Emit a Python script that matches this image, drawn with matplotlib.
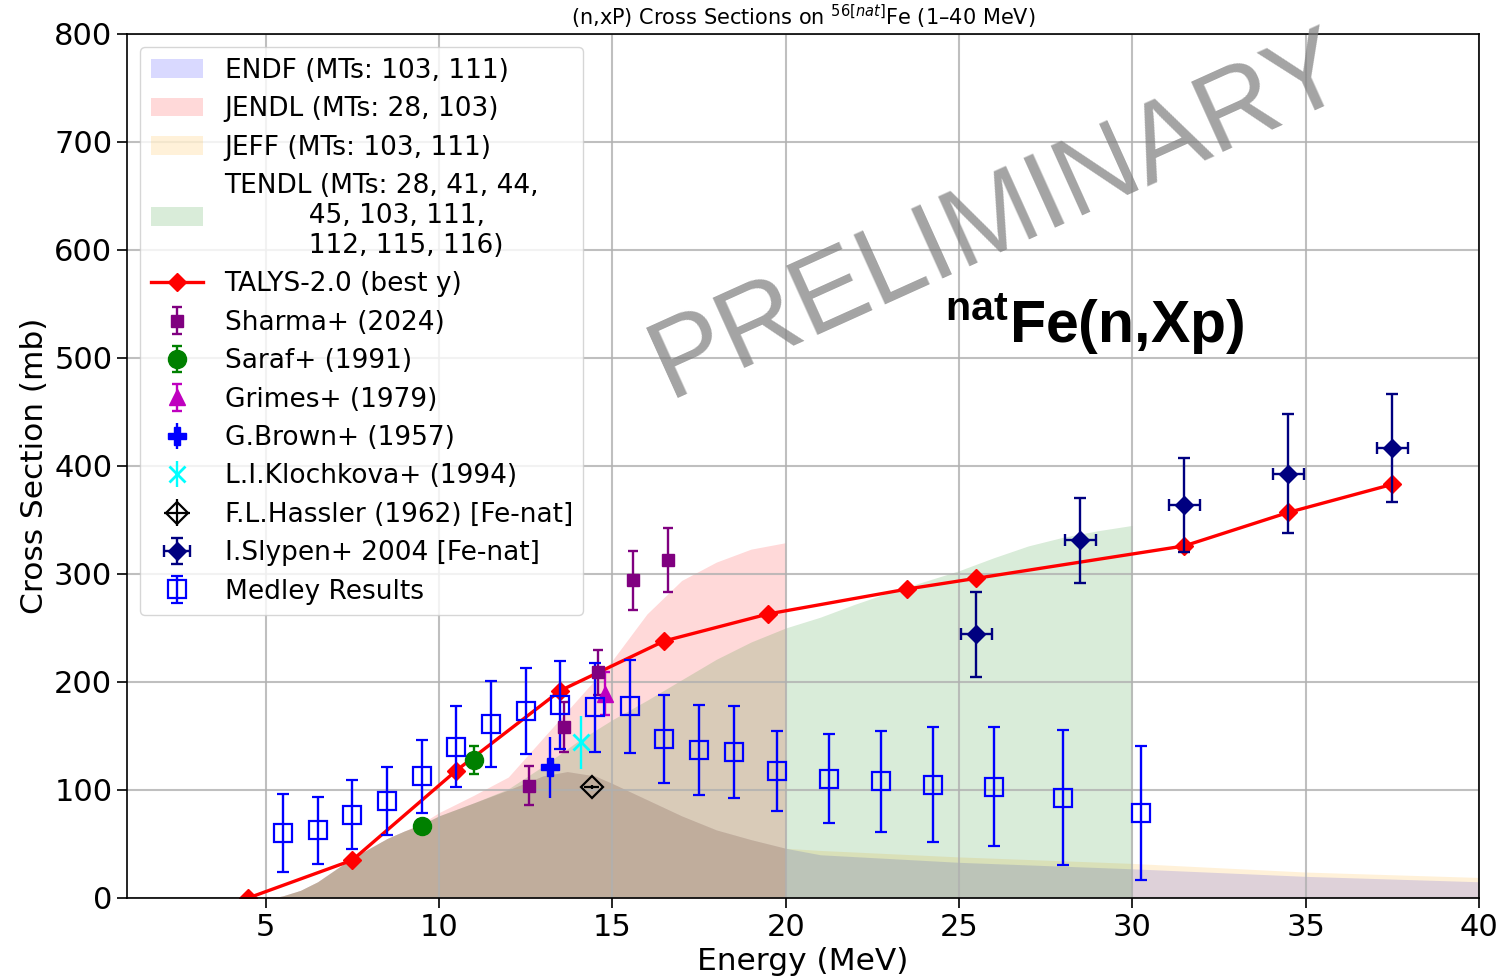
import matplotlib
matplotlib.use('Agg')
import matplotlib.pyplot as plt

plt.rcParams['mathtext.fontset'] = 'custom'
plt.rcParams['mathtext.rm'] = 'DejaVu Sans'
plt.rcParams['mathtext.it'] = 'DejaVu Sans:italic'
plt.rcParams['mathtext.bf'] = 'Liberation Sans:bold'

# ---------------- evaluated libraries ----------------
endf_e = [5.2, 5.5, 6.0, 6.5, 7.0, 7.5, 8.0, 8.5, 9.0, 9.5, 10.0, 11.0, 12.0, 13.0, 13.7,
          14.5, 15.0, 16.0, 17.0, 18.0, 19.0, 20.0, 21.0, 25.0, 30.0, 35.0, 40.0]
endf_xs = [0, 2, 7, 15, 26, 37, 46, 55, 62, 68, 76, 88, 100, 113, 117,
           113, 106, 91, 76, 63, 54, 46, 40, 33, 27, 20, 15]

jeff_e = [5.2, 5.5, 6.0, 6.5, 7.0, 7.5, 8.0, 8.5, 9.0, 9.5, 10.0, 11.0, 12.0, 13.0, 13.7,
          14.5, 15.0, 16.0, 17.0, 18.0, 19.0, 20.0, 21.0, 25.0, 30.0, 35.0, 40.0]
jeff_xs = [0, 2, 7, 15, 26, 37, 46, 55, 62, 68, 76, 88, 100, 113, 117,
           113, 106, 91, 76, 63, 54, 46, 44, 38, 32, 24, 19]

jendl_e = [5.2, 5.5, 6.0, 6.5, 7.0, 7.5, 8.0, 8.5, 9.0, 9.5, 10.0, 11.0, 12.0, 13.0,
           14.0, 15.0, 16.0, 17.0, 18.0, 19.0, 20.0]
jendl_xs = [0, 2, 7, 15, 26, 37, 46, 55, 62, 69, 79, 95, 112, 148,
            184, 220, 263, 294, 311, 323, 329]

tendl_e = [5.2, 5.5, 6.0, 6.5, 7.0, 7.5, 8.0, 8.5, 9.0, 9.5, 10.0, 11.0, 12.0, 13.0,
           14.0, 15.0, 16.0, 17.0, 18.0, 19.0, 20.0, 21.0, 22.0, 23.0, 24.0, 25.0,
           26.0, 27.0, 28.0, 29.0, 30.0]
tendl_xs = [0, 2, 7, 15, 26, 37, 46, 55, 62, 68, 76, 88, 101, 122,
            145, 165, 183, 202, 221, 237, 250, 260, 272, 283, 293, 303,
            315, 326, 334, 340, 345]

# ---------------- TALYS ----------------
talys_e = [4.5, 7.5, 10.5, 13.5, 16.5, 19.5, 23.5, 25.5, 31.5, 34.5, 37.5]
talys_xs = [0, 35, 118, 192, 238, 263, 286, 296, 326, 357, 383]

# ---------------- experiments ----------------
sharma_e = [12.6, 13.6, 14.6, 15.6, 16.6]
sharma_xs = [104, 158, 209, 294, 313]
sharma_err = [18, 23, 21, 27, 29.5]

saraf_e = [9.5, 11.0]
saraf_xs = [67, 128]
saraf_err = [4, 13]

grimes_e = [14.8]
grimes_xs = [189]
grimes_err = [20]

brown_e = [13.2]
brown_xs = [121]
brown_err = [28.5]

kloch_e = [14.1]
kloch_xs = [144]
kloch_err = [24.5]

hassler_e = [14.4]
hassler_xs = [103]
hassler_xerr = [0.22]
hassler_yerr = [2]

slypen_e = [25.5, 28.5, 31.5, 34.5, 37.5]
slypen_xs = [244, 331, 364, 393, 417]
slypen_err = [39, 39.5, 43.5, 55.5, 50]
slypen_eerr = [0.45, 0.45, 0.45, 0.45, 0.45]

medley_e = [5.5, 6.5, 7.5, 8.5, 9.5, 10.5, 11.5, 12.5, 13.5, 14.5, 15.5, 16.5, 17.5,
            18.5, 19.75, 21.25, 22.75, 24.25, 26.0, 28.0, 30.25]
medley_xs = [60, 62.5, 77, 89.5, 112.5, 140, 161, 173, 178.5, 176.5, 177.5, 147, 137,
             135, 117.5, 110.5, 108, 105, 103, 93, 79]
medley_err = [36, 31, 32, 31.5, 33.5, 37.5, 39.5, 40, 40.5, 41.5, 43, 40.5, 42,
              42.5, 37, 41, 47, 53, 55, 62.5, 62]

xticks = [5, 10, 15, 20, 25, 30, 35, 40]
yticks = [0, 100, 200, 300, 400, 500, 600, 700, 800]

# ---------------- figure ----------------
fig = plt.figure(figsize=(15.06, 9.77), dpi=100)
ax = fig.add_axes([0.0843, 0.0809, 0.8978, 0.8843])

h_endf = ax.fill_between(endf_e, endf_xs, color='blue', alpha=0.15, lw=0)
h_jendl = ax.fill_between(jendl_e, jendl_xs, color='red', alpha=0.15, lw=0)
h_jeff = ax.fill_between(jeff_e, jeff_xs, color='orange', alpha=0.15, lw=0)
h_tendl = ax.fill_between(tendl_e, tendl_xs, color='green', alpha=0.15, lw=0)

h_talys, = ax.plot(talys_e, talys_xs, '-D', color='red', ms=9.5, lw=2.4)

ekw = dict(elinewidth=1.7, capthick=1.7)
h_sh = ax.errorbar(sharma_e, sharma_xs, yerr=sharma_err, fmt='s', color='purple',
                   ms=8.5, capsize=3.5, **ekw)
h_sa = ax.errorbar(saraf_e, saraf_xs, yerr=saraf_err, fmt='o', color='green',
                   ms=13, capsize=3.5, **ekw)
h_gr = ax.errorbar(grimes_e, grimes_xs, yerr=grimes_err, fmt='^', color='m',
                   ms=12, capsize=3.5, **ekw)
h_br = ax.errorbar(brown_e, brown_xs, yerr=brown_err, fmt='P', color='blue',
                   ms=13, capsize=0, **ekw)
h_kl = ax.errorbar(kloch_e, kloch_xs, yerr=kloch_err, fmt='x', color='cyan',
                   ms=12, mew=2, capsize=0, **ekw)
h_ha = ax.errorbar(hassler_e, hassler_xs, xerr=hassler_xerr, yerr=hassler_yerr, fmt='D',
                   color='black', mfc='none', mec='black', ms=11.5, mew=1.6, capsize=0,
                   elinewidth=1.6)
h_sl = ax.errorbar(slypen_e, slypen_xs, xerr=slypen_eerr, yerr=slypen_err, fmt='D',
                   color='navy', ms=9, capsize=4, **ekw)
h_me = ax.errorbar(medley_e, medley_xs, yerr=medley_err, fmt='s', color='blue',
                   mfc='none', mec='blue', ms=12.5, mew=1.6, capsize=4, **ekw)

ax.set_xlim(1, 40)
ax.set_ylim(0, 800)
ax.set_xticks(xticks)
ax.set_yticks(yticks)
ax.tick_params(labelsize=22, length=7.5, width=1.2, pad=3)
for s in ax.spines.values():
    s.set_linewidth(1.2)
ax.grid(True, color='#b0b0b0', lw=1.5, alpha=0.8)

ax.set_xlabel('Energy (MeV)', fontsize=22.5)
ax.set_ylabel('Cross Section (mb)', fontsize=22.5)
ax.set_title(r'(n,xP) Cross Sections on $^{56[nat]}$Fe (1–40 MeV)', fontsize=15)

handles = [h_endf, h_jendl, h_jeff, h_tendl, h_talys, h_sh, h_sa, h_gr, h_br, h_kl,
           h_ha, h_sl, h_me]
labels = ['ENDF (MTs: 103, 111)', 'JENDL (MTs: 28, 103)', 'JEFF (MTs: 103, 111)',
          'TENDL (MTs: 28, 41, 44,\n          45, 103, 111,\n          112, 115, 116)',
          'TALYS-2.0 (best y)', 'Sharma+ (2024)', 'Saraf+ (1991)', 'Grimes+ (1979)',
          'G.Brown+ (1957)', 'L.I.Klochkova+ (1994)', 'F.L.Hassler (1962) [Fe-nat]',
          'I.Slypen+ 2004 [Fe-nat]', 'Medley Results']
ax.legend(handles, labels, loc='upper left', fontsize=19, labelspacing=0.47)

ax.text(26.15, 631, 'PRELIMINARY', family='Liberation Sans', fontsize=80,
        color='gray', alpha=0.72, rotation=24.3, ha='center', va='center')
ax.text(24.6, 514, r'$^{\mathbf{nat}}$Fe(n,Xp)', family='Liberation Sans',
        fontweight='bold', fontsize=42.5, ha='left', va='baseline')

fig.savefig('out.png', dpi=100)
